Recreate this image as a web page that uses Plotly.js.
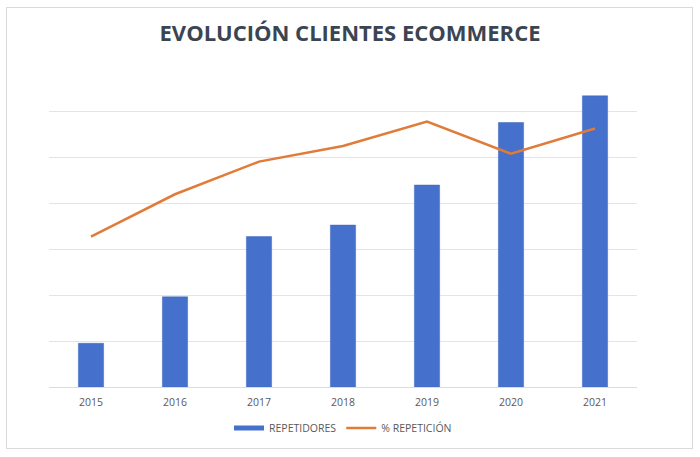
<!DOCTYPE html>
<html>
<head>
<meta charset="utf-8">
<script src="https://cdn.plot.ly/plotly-3.0.1.min.js"></script>
<style>
  body { margin: 0; background: #fff; }
  #wrap { position: relative; width: 700px; height: 457px; }
  #chart { width: 700px; height: 457px; }
  #frame { position: absolute; left: 6px; top: 7px; width: 685px; height: 440px;
           border: 1px solid #d9d9d9; pointer-events: none; }
</style>
</head>
<body>
<div id="wrap">
  <div id="chart"></div>
  <div id="frame"></div>
</div>
<script>
// Years on the x axis
var years = ['2015', '2016', '2017', '2018', '2019', '2020', '2021'];

// Repeat customers (y axis labels hidden in the original)
var repetidores = [950, 1960, 3270, 3520, 4390, 5750, 6330];

// Repeat rate, %
var repeticion = [32.7, 41.9, 49.0, 52.4, 57.7, 50.7, 56.2];

var BAR_COLOR  = '#4570cb';
var LINE_COLOR = '#e07b39';


// Draws the chart
function drawChart() {

    var data = [
        // Bars (legend entry drawn by the next trace, as a flat swatch)
        {
            x: years,
            y: repetidores,
            type: 'bar',
            name: 'REPETIDORES',
            showlegend: false,
            marker: {color: BAR_COLOR, line: {color: '#3f67bd', width: 0.5}}
        },
        // Legend swatch only
        {
            x: [years[0]],
            y: [null],
            type: 'scatter',
            mode: 'lines',
            name: 'REPETIDORES',
            line: {color: BAR_COLOR, width: 5}
        },
        // Repeat rate line
        {
            x: years,
            y: repeticion,
            type: 'scatter',
            mode: 'lines',
            name: '% REPETICIÓN',
            yaxis: 'y2',
            line: {color: LINE_COLOR, width: 2.5}
        }
    ];

    var layout = {
        width: 700,
        height: 457,
        margin: {l: 49, r: 63, t: 65, b: 70},
        paper_bgcolor: '#ffffff',
        plot_bgcolor: '#ffffff',
        font: {family: 'Open Sans, sans-serif', color: '#595959'},
        title: {
            text: '<b>EVOLUCIÓN CLIENTES ECOMMERCE</b>',
            font: {family: 'Open Sans, sans-serif', size: 22, color: '#3b4552'},
            x: 0.5, xanchor: 'center',
            y: 0.928, yref: 'container', yanchor: 'middle'
        },
        bargap: 0.7,
        xaxis: {
            type: 'category',
            showgrid: false,
            showline: false,
            ticks: '',
            ticklabelstandoff: 7,
            tickfont: {size: 10.5, color: '#595959'}
        },
        yaxis: {
            range: [0, 7000],
            dtick: 1000,
            showticklabels: false,
            gridcolor: '#e4e4e4',
            gridwidth: 1,
            zeroline: true,
            zerolinecolor: '#dcdcdc',
            zerolinewidth: 1,
            fixedrange: true
        },
        yaxis2: {
            range: [0, 70],
            overlaying: 'y',
            side: 'right',
            showgrid: false,
            zeroline: false,
            showticklabels: false
        },
        showlegend: true,
        legend: {
            orientation: 'h',
            x: 0.5, xanchor: 'center',
            y: -0.127, yanchor: 'middle',
            font: {size: 10.5, color: '#595959'},
            itemwidth: 30,
            traceorder: 'normal'
        }
    };

    Plotly.newPlot('chart', data, layout, {displayModeBar: false, staticPlot: true});
}

drawChart();
</script>
</body>
</html>
